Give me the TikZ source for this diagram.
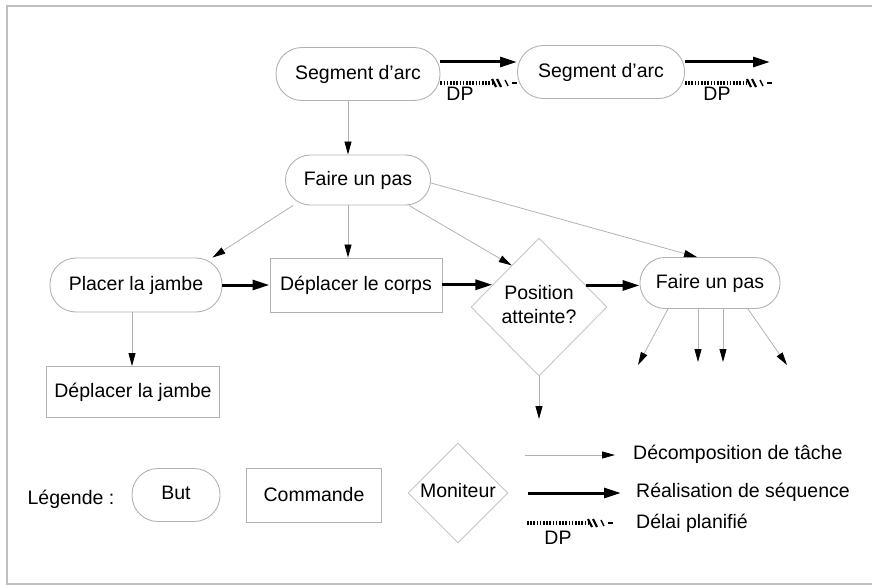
\documentclass[tikz,border=0pt]{standalone}
\usepackage{fontspec}
\setmainfont{Liberation Sans}
\usetikzlibrary{shapes.geometric,arrows.meta,calc}
\newcommand{\dpline}[2]{%
  \draw[dpdash] (#1) -- ($(#2)+(-25,0)$);
  \draw[line width=2.2pt] ($(#2)+(-25,-4)$) -- ($(#2)+(-21,4)$);
  \draw[line width=2.2pt] ($(#2)+(-20,-4)$) -- ($(#2)+(-16,4)$);
  \draw[line width=1.4pt] ($(#2)+(-12,-3)$) -- ($(#2)+(-9,3)$);
  \draw[line width=1.6pt] ($(#2)+(-5,0)$) -- (#2);
}
\begin{document}
\begin{tikzpicture}[x=1pt,y=-1pt,
  every node/.style={font=\fontsize{19.5}{24}\selectfont, text=black},
  butbox/.style={draw=gray!60, line width=0.9pt, rounded corners=26pt, inner sep=0pt},
  cmdbox/.style={draw=gray!60, line width=0.9pt, inner sep=0pt},
  monbox/.style={draw=gray!45, line width=0.9pt, diamond, inner sep=0pt, align=center},
  thinarr/.style={draw=gray!60, line width=0.8pt, -{Triangle[length=13pt,width=7pt,color=black]}},
  thickarr/.style={draw=black, line width=3pt, -{Triangle[length=17pt,width=10pt]}},
  dpdash/.style={draw=black, line width=3.2pt, dash pattern=on 1.6pt off 1.6pt},
  lbl/.style={inner sep=0pt}
]
\useasboundingbox (0,0) rectangle (872,586);
% frame
\draw[gray!50, line width=1.2pt] (872,6) -- (7,6) -- (7,584) -- (872,584);

% nodes
\node[butbox, minimum width=164pt, minimum height=53pt] (sa1) at (358,74) {Segment d'arc};
\node[butbox, minimum width=167pt, minimum height=53pt] (sa2) at (601,72) {Segment d'arc};
\node[butbox, minimum width=145pt, minimum height=50pt, rounded corners=25pt] (fp1) at (358,180) {Faire un pas};
\node[butbox, minimum width=172pt, minimum height=54pt] (plj) at (136,285) {Placer la jambe};
\node[cmdbox, minimum width=172pt, minimum height=54pt] (dlc) at (356,285) {Déplacer le corps};
\node[monbox, minimum width=136pt, minimum height=138pt] (dia) at (539,307)
  {\raisebox{9pt}{\begin{tabular}{@{}c@{}}Position\\atteinte?\end{tabular}}};
\node[butbox, minimum width=140pt, minimum height=51pt, rounded corners=25pt] (fp2) at (710,283) {Faire un pas};
\node[cmdbox, minimum width=173pt, minimum height=51pt] (dlj) at (133,392) {Déplacer la jambe};

% top sequence
\coordinate (sa2out) at (770,62);
\coordinate (dpend2) at (772,83);
\draw[thickarr] ([yshift=12pt]sa1.east) -- ([yshift=12pt]sa1.east -| sa2.west);
\draw[thickarr] ([yshift=10pt]sa2.east) -- (sa2out);
\coordinate (dp1s) at ([yshift=-9pt]sa1.east);
\coordinate (dp1e) at (dp1s -| sa2.west);
\dpline{dp1s}{dp1e}
\coordinate (dp2s) at ([yshift=-11pt]sa2.east);
\dpline{dp2s}{dpend2}
\node[lbl] (dp1) at (460,94) {DP};
\node[lbl] (dp2) at (717,94) {DP};

% decomposition
\draw[thinarr] ([xshift=-10pt]sa1.south) -- ([xshift=-10pt]fp1.north);
\draw[thinarr] ([xshift=8pt]fp1.south west) -- ([xshift=-10pt]plj.north east);
\draw[thinarr] ([xshift=-10pt]fp1.south) -- ([xshift=-8pt]dlc.north);
\draw[thinarr] ([xshift=-22pt]fp1.south east) -- ($(dia.north)!0.4!(dia.west)$);
\draw[thinarr] ([yshift=-3pt]fp1.east) -- ([xshift=-13pt]fp2.north);
\draw[thinarr] ([xshift=-4pt]plj.south) -- ([xshift=-4pt]plj.south |- dlj.north);

% sequence
\draw[thickarr] (plj.east) -- (dlc.west);
\coordinate (dl) at ($(dia.north)!0.68!(dia.west)$);
\draw[thickarr] (dlc.east |- dl) -- (dl);
\coordinate (dr) at ($(dia.north)!0.69!(dia.east)$);
\draw[thickarr] (dr) -- (dr -| fp2.west);

% outgoing
\coordinate (dd) at (539,419);
\draw[thinarr] (dia.south) -- (dd);
\coordinate (o1) at (638,365);
\coordinate (o2) at (698,362);
\coordinate (o3) at (723,362);
\coordinate (o4) at (787,365);
\draw[thinarr] ([xshift=-42pt]fp2.south) -- (o1);
\draw[thinarr] ([xshift=-12pt]fp2.south) -- (o2);
\draw[thinarr] ([xshift=13pt]fp2.south) -- (o3);
\draw[thinarr] ([xshift=38pt]fp2.south) -- (o4);

% legend
\node[lbl] (leg) at (71,499) {Légende :};
\node[butbox, minimum width=88pt, minimum height=53pt, rounded corners=26pt] (lbut) at (176,495) {\raisebox{4pt}{But}};
\node[cmdbox, minimum width=135pt, minimum height=54pt] (lcmd) at (314,495) {Commande};
\node[monbox, minimum width=100pt, minimum height=100pt] (lmon) at (458,493)
  {\raisebox{6pt}{\makebox[40pt][c]{Moniteur}}};
\coordinate (la1) at (525,455);
\coordinate (lb1) at (615,455);
\coordinate (la2) at (528,493);
\coordinate (lb2) at (621,493);
\coordinate (la3) at (527,523);
\coordinate (lb3) at (613,523);
\draw[thinarr] (la1) -- (lb1);
\draw[thickarr] (la2) -- (lb2);
\dpline{la3}{lb3}
\node[lbl] (ldp) at (558,538) {DP};
\node[lbl, anchor=west] (t1) at (633,454) {Décomposition de tâche};
\node[lbl, anchor=west] (t2) at (636,492) {Réalisation de séquence};
\node[lbl, anchor=west] (t3) at (636,523) {Délai planifié};
\end{tikzpicture}
\end{document}
